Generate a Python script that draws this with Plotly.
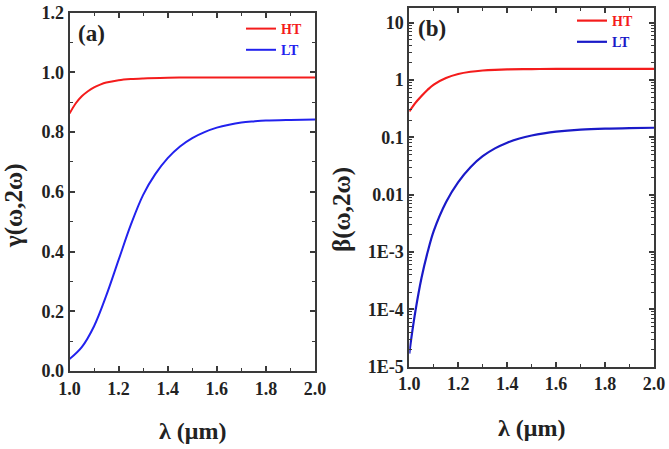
import plotly.graph_objects as go

# ---- data ----
lam_a_ht = [1.0, 1.025, 1.05, 1.075, 1.1, 1.125, 1.15, 1.2, 1.25, 1.3, 1.4, 1.5, 1.6, 1.8, 2.0]
gamma_ht = [0.862, 0.896, 0.920, 0.937, 0.950, 0.959, 0.966, 0.974, 0.978, 0.980, 0.982, 0.983, 0.983, 0.983, 0.983]

lam_a_lt = [1.0, 1.05, 1.1, 1.15, 1.2, 1.25, 1.3, 1.35, 1.4, 1.45, 1.5, 1.55, 1.6, 1.65, 1.7, 1.75, 1.8, 1.9, 2.0]
gamma_lt = [0.040, 0.080, 0.150, 0.253, 0.372, 0.490, 0.590, 0.660, 0.713, 0.752, 0.780, 0.800, 0.815, 0.825,
            0.832, 0.836, 0.839, 0.841, 0.842]

lam_b_ht = [1.0, 1.025, 1.05, 1.075, 1.1, 1.15, 1.2, 1.25, 1.3, 1.35, 1.4, 1.5, 1.6, 1.8, 2.0]
beta_ht = [0.282, 0.398, 0.525, 0.676, 0.832, 1.081, 1.271, 1.39, 1.462, 1.503, 1.528, 1.549, 1.556, 1.558, 1.558]

lam_b_lt = [1.0, 1.01, 1.025, 1.05, 1.075, 1.1, 1.15, 1.2, 1.25, 1.3, 1.35, 1.4, 1.45, 1.5, 1.55, 1.6, 1.7,
            1.8, 1.9, 2.0]
beta_lt = [1.7e-5, 3.55e-5, 9.33e-5, 3.55e-4, 1.0e-3, 2.34e-3, 7.41e-3, 0.0166, 0.0302, 0.0468, 0.0641,
           0.0807, 0.0953, 0.1076, 0.1175, 0.1253, 0.1358, 0.1419, 0.1452, 0.1469]

x_ticks = [1.0, 1.2, 1.4, 1.6, 1.8, 2.0]
x_ticktext = ["1.0", "1.2", "1.4", "1.6", "1.8", "2.0"]
ya_ticks = [0.0, 0.2, 0.4, 0.6, 0.8, 1.0, 1.2]
ya_ticktext = ["0.0", "0.2", "0.4", "0.6", "0.8", "1.0", "1.2"]
yb_ticks = [1e-5, 1e-4, 1e-3, 0.01, 0.1, 1, 10]
yb_ticktext = ["1E-5", "1E-4", "1E-3", "0.01", "0.1", "1", "10"]

RED = "#f41c1c"
BLUE_A = "#2222ee"
BLUE_B = "#1a1ac8"
W, H = 669, 449
FONT = "Liberation Serif"
AX = "#3a3a3a"


def px(x):
    return x / W


def py(y):
    return 1 - y / H


fig = go.Figure()
fig.add_trace(go.Scatter(x=lam_a_ht, y=gamma_ht, mode="lines", line=dict(color=RED, width=2, shape="spline"),
                         name="<b><span style='color:%s'>HT</span></b>" % RED, xaxis="x", yaxis="y", legend="legend"))
fig.add_trace(go.Scatter(x=lam_a_lt, y=gamma_lt, mode="lines", line=dict(color=BLUE_A, width=2, shape="spline"),
                         name="<b><span style='color:%s'>LT</span></b>" % BLUE_A, xaxis="x", yaxis="y", legend="legend"))
fig.add_trace(go.Scatter(x=lam_b_ht, y=beta_ht, mode="lines", line=dict(color=RED, width=2.2, shape="spline"),
                         name="<b><span style='color:%s'>HT</span></b>" % RED, xaxis="x2", yaxis="y2", legend="legend2"))
fig.add_trace(go.Scatter(x=lam_b_lt, y=beta_lt, mode="lines", line=dict(color=BLUE_B, width=2.2, shape="spline"),
                         name="<b><span style='color:%s'>LT</span></b>" % BLUE_B, xaxis="x2", yaxis="y2", legend="legend2"))

tickfont = dict(family=FONT, size=18, color="#222", weight="bold")
common = dict(showline=True, linecolor=AX, linewidth=2, mirror="ticks", ticks="inside", ticklen=5,
              tickwidth=1.5, tickcolor=AX, showgrid=False, zeroline=False, tickfont=tickfont,
              automargin=False)
minor_lin = dict(ticks="inside", ticklen=3, dtick=0.1, tickcolor=AX, tickwidth=1.2, showgrid=False)

fig.update_layout(
    template="none",
    width=W, height=H, margin=dict(l=0, r=0, t=0, b=0, pad=0), autosize=False,
    paper_bgcolor="white", plot_bgcolor="white",
    font=dict(family=FONT, weight="bold"),
    xaxis=dict(domain=[px(69.5), px(315)], range=[1.0, 2.0], anchor="y", tickvals=x_ticks, ticktext=x_ticktext,
               minor=minor_lin, **common),
    yaxis=dict(domain=[py(371), py(12.7)], range=[0, 1.2], anchor="x", tickvals=ya_ticks, ticktext=ya_ticktext,
               minor=minor_lin, **common),
    xaxis2=dict(domain=[px(409.3), px(654)], range=[1.0, 2.0], anchor="y2", tickvals=x_ticks, ticktext=x_ticktext,
                minor=minor_lin, **common),
    yaxis2=dict(domain=[py(366.7), py(8.3)], type="log", range=[-5, 1.25], anchor="x2",
                tickvals=yb_ticks, ticktext=yb_ticktext,
                minor=dict(ticks="inside", ticklen=3, dtick="D1", tickcolor=AX, tickwidth=1.2, showgrid=False),
                **common),
    legend=dict(x=px(241), y=py(13), xanchor="left", yanchor="top", bgcolor="rgba(0,0,0,0)",
                font=dict(family=FONT, size=14), tracegroupgap=0, itemwidth=30, borderwidth=0),
    legend2=dict(x=px(572), y=py(5), xanchor="left", yanchor="top", bgcolor="rgba(0,0,0,0)",
                 font=dict(family=FONT, size=14), tracegroupgap=0, itemwidth=30, borderwidth=0),
    showlegend=True,
)

xtitlefont = dict(family=FONT, size=24, color="#222", weight="bold")
ytitlefont = dict(family=FONT, size=25, color="#222", weight="bold")
annots = [
    dict(text="<b>λ (μm)</b>", x=px(192), y=py(431), font=xtitlefont),
    dict(text="<b>λ (μm)</b>", x=px(531), y=py(428), font=xtitlefont),
    dict(text="<b>γ(ω,2ω)</b>", x=px(14), y=py(206), font=ytitlefont, textangle=-90),
    dict(text="<b>β(ω,2ω)</b>", x=px(342), y=py(210), font=ytitlefont, textangle=-90),
    dict(text="<b>(a)</b>", x=px(91), y=py(34), font=dict(family=FONT, size=23, color="#222")),
    dict(text="<b>(b)</b>", x=px(432), y=py(29), font=dict(family=FONT, size=23, color="#222")),
]
for a in annots:
    fig.add_annotation(xref="paper", yref="paper", showarrow=False, xanchor="center", yanchor="middle", **a)

fig.write_html("out.html")
